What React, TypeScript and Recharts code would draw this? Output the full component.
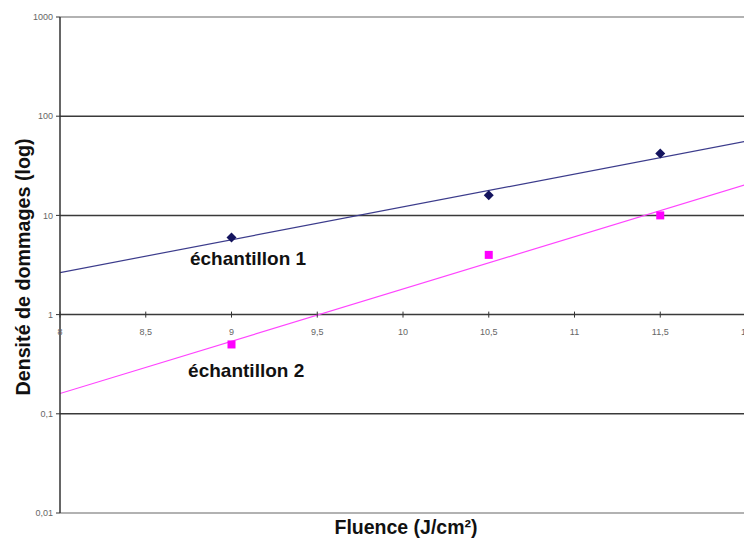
import {
  ComposedChart,
  Label,
  Line,
  ReferenceDot,
  ReferenceLine,
  Scatter,
  XAxis,
  YAxis,
} from 'recharts';

const xTicks = [8, 8.5, 9, 9.5, 10, 10.5, 11, 11.5, 12];
const yTicks = [0.01, 0.1, 1, 10, 100, 1000];
const darkGridLines = [0.1, 1, 10, 100];

const sample1 = [
  { x: 9, y: 6 },
  { x: 10.5, y: 16 },
  { x: 11.5, y: 42 },
];
const sample2 = [
  { x: 9, y: 0.5 },
  { x: 10.5, y: 4 },
  { x: 11.5, y: 10 },
];

// trend lines (ends at x = 8 and x = 12)
const trend1 = [
  { x: 8, y: 2.65 },
  { x: 12, y: 56 },
];
const trend2 = [
  { x: 8, y: 0.16 },
  { x: 12, y: 20.5 },
];

const sampleLabels = [
  { x: 8.758, y: 3.14, text: 'échantillon 1' },
  { x: 8.747, y: 0.234, text: 'échantillon 2' },
];

const FONT = '"Liberation Sans", Arial, sans-serif';
const CHART_W = 746;
const CHART_H = 540;
const TOP = 17;
const X_AXIS_H = 27;
const PLOT_H = CHART_H - TOP - X_AXIS_H;
// x axis crosses the y axis at 1, two decades above the bottom (0.01)
const X_CROSS_SHIFT = (PLOT_H * 2) / 5;

const comma = (v: number) => String(v).replace('.', ',');

const XTick = ({ x, y, payload }: any) => {
  const yy = y - X_CROSS_SHIFT;
  return (
    <g>
      <line x1={x} x2={x} y1={yy - 3} y2={yy + 3} stroke="#333" strokeWidth={1} />
      <text x={x} y={yy + 20} textAnchor="middle" fontSize={9} fill="#666" fontFamily={FONT}>
        {comma(payload.value)}
      </text>
    </g>
  );
};

const Diamond = ({ cx, cy }: any) => (
  <polygon
    points={`${cx},${cy - 5} ${cx + 5},${cy} ${cx},${cy + 5} ${cx - 5},${cy}`}
    fill="#14145e"
  />
);

const Square = ({ cx, cy }: any) => (
  <rect x={cx - 4} y={cy - 4} width={8} height={8} fill="#ff00ff" />
);

export default function App() {
  return (
    <div style={{ position: 'absolute', left: 0, top: 0, width: 744, height: 540, overflow: 'hidden', background: '#fff' }}>
      <ComposedChart
        width={CHART_W}
        height={CHART_H}
        margin={{ top: TOP, right: 0, bottom: 0, left: 0 }}
        style={{ fontFamily: FONT }}
      >
        <XAxis
          type="number"
          dataKey="x"
          domain={[8, 12]}
          ticks={xTicks}
          interval={0}
          allowDataOverflow
          height={X_AXIS_H}
          axisLine={{ stroke: '#999', strokeWidth: 1.5 }}
          tickLine={false}
          tickSize={0}
          tickMargin={0}
          tick={<XTick />}
        >
          <Label
            content={({ viewBox }: any) => (
              <text
                x={viewBox.x + viewBox.width / 2 + 3}
                y={viewBox.y + 21}
                textAnchor="middle"
                fontSize={19.5}
                fontWeight="bold"
                fill="#111"
                fontFamily={FONT}
              >
                Fluence (J/cm²)
              </text>
            )}
          />
        </XAxis>
        <YAxis
          type="number"
          dataKey="y"
          scale="log"
          domain={[0.01, 1000]}
          ticks={yTicks}
          interval={0}
          allowDataOverflow
          width={60}
          axisLine={{ stroke: '#333', strokeWidth: 1.5 }}
          tickLine={{ stroke: '#333' }}
          tickSize={4}
          tickMargin={3}
          tick={{ fontSize: 9, fill: '#666', fontFamily: FONT }}
          tickFormatter={comma}
        >
          <Label
            content={() => (
              <text
                x={30}
                y={267}
                transform="rotate(-90, 30, 267)"
                textAnchor="middle"
                fontSize={19.7}
                fontWeight="bold"
                fill="#111"
                fontFamily={FONT}
              >
                Densité de dommages (log)
              </text>
            )}
          />
        </YAxis>

        <ReferenceLine y={1000} stroke="#999" strokeWidth={1.5} />
        {darkGridLines.map((v) => (
          <ReferenceLine key={v} y={v} stroke="#3a3a3a" strokeWidth={1.5} />
        ))}

        <Line
          data={trend1}
          dataKey="y"
          type="linear"
          stroke="#3c3c8c"
          strokeWidth={1.2}
          dot={false}
          activeDot={false}
          isAnimationActive={false}
        />
        <Line
          data={trend2}
          dataKey="y"
          type="linear"
          stroke="#ff44ff"
          strokeWidth={1.2}
          dot={false}
          activeDot={false}
          isAnimationActive={false}
        />
        <Scatter data={sample1} dataKey="y" shape={<Diamond />} isAnimationActive={false} />
        <Scatter data={sample2} dataKey="y" shape={<Square />} isAnimationActive={false} />

        {sampleLabels.map((l) => (
          <ReferenceDot
            key={l.text}
            x={l.x}
            y={l.y}
            r={0}
            fill="none"
            stroke="none"
            label={({ viewBox }: any) => (
              <text
                x={viewBox.x + viewBox.width / 2}
                y={viewBox.y + viewBox.height / 2}
                fontSize={19}
                fontWeight="bold"
                fill="#111"
                fontFamily={FONT}
              >
                {l.text}
              </text>
            )}
          />
        ))}
      </ComposedChart>
    </div>
  );
}
